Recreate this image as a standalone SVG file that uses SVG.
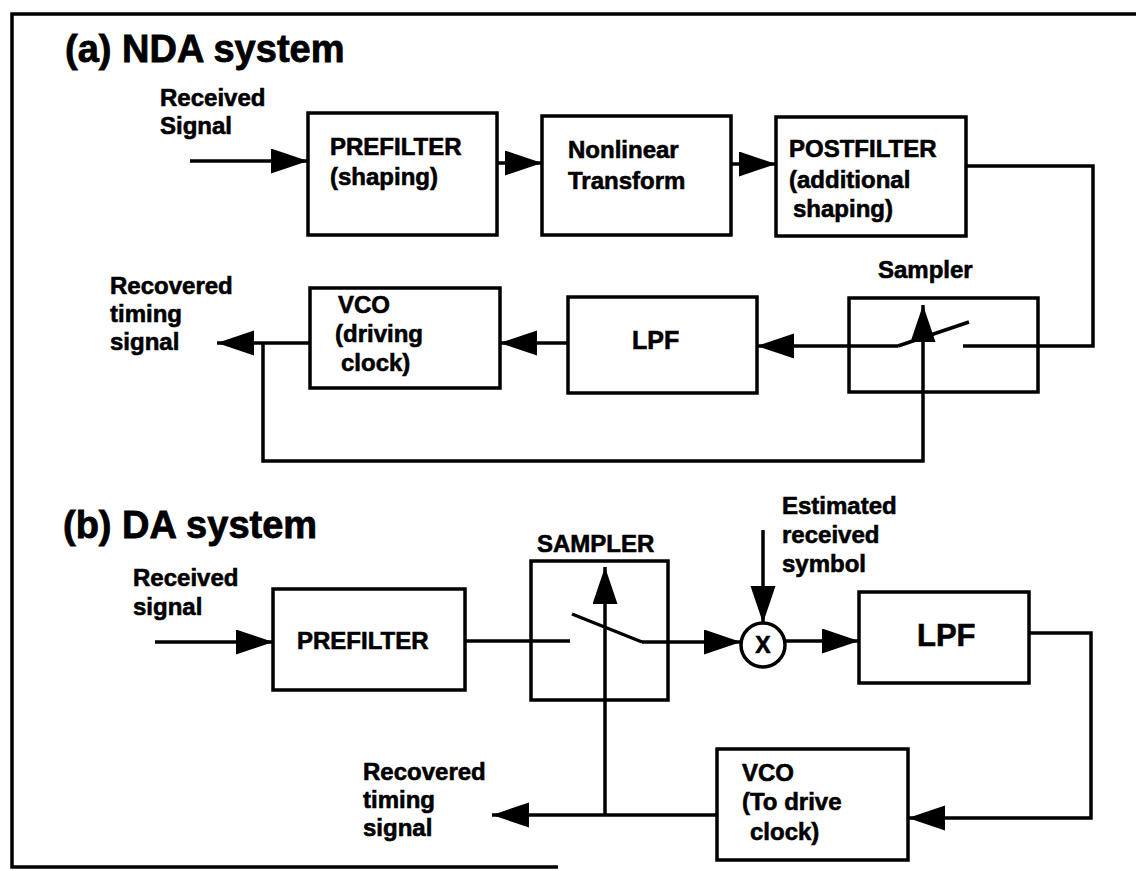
<svg xmlns="http://www.w3.org/2000/svg" width="1136" height="871" viewBox="0 0 1136 871">
<style>
text{font-family:"Liberation Sans",Arial,sans-serif;font-weight:bold;font-size:24px;fill:#000;stroke:#000;stroke-width:0.6}
.title{font-size:38px;stroke-width:0.8}
.lpfa{font-size:25px}
.lpfb{font-size:31px}
.mx{font-size:23px}
.box{fill:none;stroke:#000;stroke-width:3.5}
.ln{fill:none;stroke:#000;stroke-width:3.5}
.arr{marker-end:url(#ah)}
</style>
<defs>
<marker id="ah" markerUnits="userSpaceOnUse" markerWidth="40" markerHeight="26" refX="37" refY="12.5" orient="auto">
<path d="M0,0 L37,12.5 L0,25 z" fill="#000"/>
</marker>
</defs>
<rect width="1136" height="871" fill="#fff"/>
<g id="border" class="ln">
<polyline points="1136,14 12,14 12,867 558,867"/>
</g>
<g id="titles">
<text class="title" x="65" y="62">(a) NDA system</text>
<text class="title" x="63" y="538">(b) DA system</text>
</g>
<!-- (a) NDA system -->
<g id="a-input-label"><text x="160" y="106">Received</text><text x="160" y="134">Signal</text></g>
<g id="a-prefilter"><rect class="box" x="308" y="113" width="189" height="122"/><text x="330" y="155">PREFILTER</text><text x="330" y="185">(shaping)</text></g>
<g id="a-nonlinear"><rect class="box" x="542" y="116" width="189" height="119"/><text x="568" y="158">Nonlinear</text><text x="568" y="189">Transform</text></g>
<g id="a-postfilter"><rect class="box" x="776" y="117" width="190" height="119"/><text x="789" y="157">POSTFILTER</text><text x="789" y="188">(additional</text><text x="793" y="217">shaping)</text></g>
<g id="a-sampler"><text x="878" y="278">Sampler</text><rect class="box" x="849" y="298" width="189" height="94"/><line class="ln" x1="898" y1="346" x2="969" y2="322"/></g>
<g id="a-lpf"><rect class="box" x="568" y="297" width="189" height="96"/><text class="lpfa" x="632" y="349">LPF</text></g>
<g id="a-vco"><rect class="box" x="310" y="288" width="190" height="100"/><text x="338" y="313">VCO</text><text x="335" y="342">(driving</text><text x="341" y="371">clock)</text></g>
<g id="a-output-label"><text x="110" y="294">Recovered</text><text x="110" y="322">timing</text><text x="110" y="350">signal</text></g>
<!-- (b) DA system -->
<g id="b-input-label"><text x="133" y="586">Received</text><text x="133" y="615">signal</text></g>
<g id="b-prefilter"><rect class="box" x="273" y="589" width="192" height="101"/><text x="297" y="649">PREFILTER</text></g>
<g id="b-sampler"><text x="537" y="552">SAMPLER</text><rect class="box" x="531" y="561" width="137" height="139"/><line class="ln" x1="572" y1="614" x2="642" y2="642"/></g>
<g id="b-multiplier"><circle class="box" cx="763" cy="645" r="22"/><text class="mx" x="763" y="653" text-anchor="middle">X</text></g>
<g id="b-estimated-label"><text x="782" y="514">Estimated</text><text x="782" y="543">received</text><text x="782" y="572">symbol</text></g>
<g id="b-lpf"><rect class="box" x="859" y="592" width="170" height="91"/><text class="lpfb" x="917" y="646">LPF</text></g>
<g id="b-vco"><rect class="box" x="717" y="749" width="191" height="111"/><text x="742" y="781">VCO</text><text x="742" y="810">(To drive</text><text x="750" y="840">clock)</text></g>
<g id="b-output-label"><text x="363" y="780">Recovered</text><text x="363" y="808">timing</text><text x="363" y="836">signal</text></g>
<g id="connectors" class="ln">
<line class="arr" x1="190" y1="161" x2="308" y2="161"/>
<line class="arr" x1="497" y1="163" x2="542" y2="163"/>
<line class="arr" x1="731" y1="164" x2="776" y2="164"/>
<polyline points="966,166 1093,166 1093,346 963,346"/>
<line class="arr" x1="898" y1="346" x2="757" y2="346"/>
<line class="arr" x1="568" y1="343" x2="500" y2="343"/>
<line class="arr" x1="310" y1="343" x2="217" y2="343"/>
<polyline class="arr" points="263,343 263,461 923,461 923,305"/>
<line class="arr" x1="155" y1="642" x2="273" y2="642"/>
<line x1="465" y1="641" x2="570" y2="641"/>
<line class="arr" x1="642" y1="642" x2="741" y2="642"/>
<line class="arr" x1="763" y1="530" x2="763" y2="623"/>
<line class="arr" x1="785" y1="641" x2="859" y2="641"/>
<polyline class="arr" points="1029,633 1091,633 1091,818 908,818"/>
<line class="arr" x1="717" y1="815" x2="492" y2="815"/>
<line class="arr" x1="605" y1="815" x2="605" y2="567"/>
</g>
</svg>
